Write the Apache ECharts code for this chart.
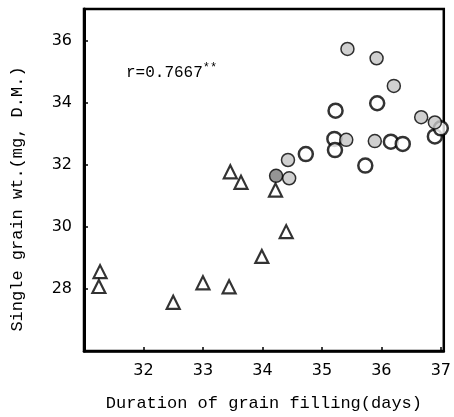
<!DOCTYPE html>
<html>
<head>
<meta charset="utf-8">
<script src="https://cdn.jsdelivr.net/npm/echarts@6/dist/echarts.min.js"></script>
<style>
  html, body { margin: 0; padding: 0; background: #fff; }
  #chart { width: 454px; height: 417px; }
</style>
</head>
<body>
<div id="chart"></div>
<script>
// triangles
var triX = [31.27, 31.25, 32.5, 33.0, 33.44, 33.99, 34.4, 33.46, 33.64, 34.22]
var triY = [28.56, 28.08, 27.57, 28.2, 28.07, 29.05, 29.85, 31.78, 31.44, 31.19]
// open circles
var openX = [35.23, 35.93, 35.21, 35.22, 34.73, 36.16, 36.36, 35.73, 36.9, 37.0]
var openY = [33.75, 33.99, 32.84, 32.48, 32.35, 32.75, 32.68, 31.98, 32.92, 33.18]
// stippled circles
var dotX = [35.43, 35.92, 36.21, 36.67, 36.9, 35.41, 35.89, 34.43, 34.45]
var dotY = [35.74, 35.44, 34.55, 33.54, 33.37, 32.81, 32.77, 32.16, 31.57]
var darkX = [34.23]
var darkY = [31.65]

var xTicks = [32, 33, 34, 35, 36, 37]
var yTicks = [28, 30, 32, 34, 36]
var rText = 'r=0.7667'

function pairs (xs, ys) {
  return xs.map(function (x, i) { return [x, ys[i]] })
}

var mono = '"Liberation Mono", "DejaVu Sans Mono", monospace'
var sans = '"DejaVu Sans", sans-serif'

var chart = echarts.init(document.getElementById('chart'), null, { renderer: 'canvas' })
chart.setOption({
  animation: false,
  grid: {
    left: 84, right: 2, top: 9, bottom: 64,
    show: true,
    borderColor: '#000',
    borderWidth: 2.5
  },
  xAxis: {
    type: 'value',
    min: 31,
    max: 37.05,
    interval: 1,
    name: 'Duration of grain filling(days)',
    nameLocation: 'middle',
    nameGap: 44,
    nameTextStyle: { fontFamily: mono, fontSize: 17, color: '#000' },
    axisLine: { show: true, lineStyle: { color: '#000', width: 2.5 } },
    axisTick: { show: true, inside: true, length: 4, lineStyle: { color: '#000', width: 1.5 } },
    axisLabel: {
      color: '#000', fontFamily: sans, fontSize: 16, margin: 12,
      showMinLabel: false,
      alignMaxLabel: 'right',
      formatter: function (v) { return xTicks.indexOf(v) >= 0 ? String(v) : '' }
    },
    splitLine: { show: false }
  },
  yAxis: {
    type: 'value',
    min: 26,
    max: 37.03,
    interval: 2,
    name: 'Single grain wt.(mg, D.M.)',
    nameLocation: 'middle',
    nameGap: 58,
    nameRotate: 90,
    nameTextStyle: { fontFamily: mono, fontSize: 17, color: '#000', padding: [0, 38, 0, 0] },
    axisLine: { show: true, lineStyle: { color: '#000', width: 3 } },
    axisTick: { show: true, inside: true, length: 4, lineStyle: { color: '#000', width: 1.5 } },
    axisLabel: {
      color: '#000', fontFamily: sans, fontSize: 16, margin: 12,
      formatter: function (v) { return yTicks.indexOf(v) >= 0 ? String(v) : '' }
    },
    splitLine: { show: false }
  },
  graphic: [{
    type: 'text',
    left: 126,
    top: 62,
    style: {
      text: '{a|' + rText + '}{s|**}',
      rich: {
        a: { fontFamily: mono, fontSize: 16, fill: '#000' },
        s: { fontFamily: mono, fontSize: 12, fill: '#000', padding: [0, 0, 9, 0] }
      }
    }
  }],
  series: [
    {
      type: 'scatter',
      symbol: 'triangle',
      symbolSize: 13,
      data: pairs(triX, triY),
      itemStyle: { color: '#fff', borderColor: '#000', borderWidth: 2.2 }
    },
    {
      type: 'scatter',
      symbol: 'circle',
      symbolSize: 14,
      data: pairs(openX, openY),
      itemStyle: { color: '#fff', borderColor: '#000', borderWidth: 2.5 }
    },
    {
      type: 'scatter',
      symbol: 'circle',
      symbolSize: 13,
      data: pairs(dotX, dotY),
      itemStyle: { color: '#c4c4c4', borderColor: '#000', borderWidth: 1.5 }
    },
    {
      type: 'scatter',
      symbol: 'circle',
      symbolSize: 13,
      data: pairs(darkX, darkY),
      itemStyle: { color: '#7a7a7a', borderColor: '#000', borderWidth: 1.5 }
    }
  ]
})
</script>
</body>
</html>
